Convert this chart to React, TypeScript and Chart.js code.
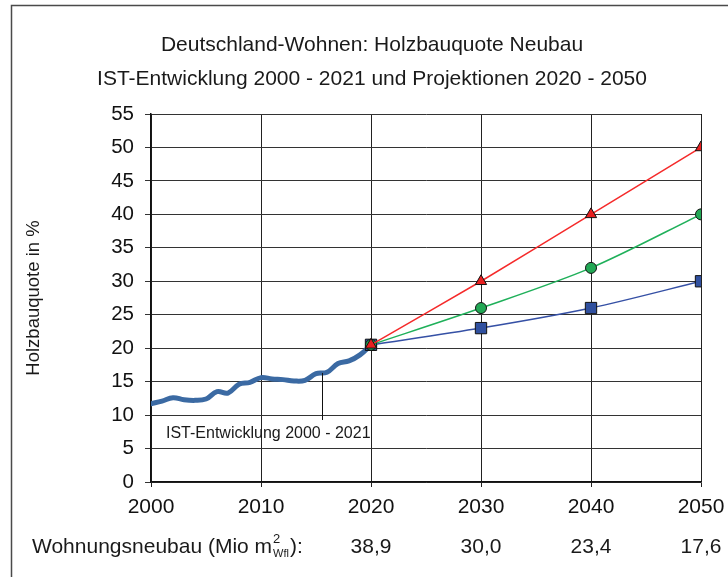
import React, { useEffect, useRef } from "react";
import { Chart, registerables } from "chart.js";

Chart.register(...registerables);

const titleLines = [
  "Deutschland-Wohnen: Holzbauquote Neubau",
  "IST-Entwicklung 2000 - 2021 und Projektionen 2020 - 2050",
];
const yAxisTitle = "Holzbauquote in %";
const annotationText = "IST-Entwicklung 2000 - 2021";

const xTickValues = [2000, 2010, 2020, 2030, 2040, 2050];
const yTickValues = [0, 5, 10, 15, 20, 25, 30, 35, 40, 45, 50, 55];

const istYears = [
  2000, 2001, 2002, 2003, 2004, 2005, 2006, 2007, 2008, 2009, 2010,
  2011, 2012, 2013, 2014, 2015, 2016, 2017, 2018, 2019, 2020,
];
const istValues = [
  11.7, 12.1, 12.6, 12.3, 12.2, 12.4, 13.5, 13.3, 14.6, 14.9, 15.6,
  15.4, 15.3, 15.1, 15.2, 16.2, 16.4, 17.7, 18.1, 19.0, 20.5,
];

const projYears = [2020, 2030, 2040, 2050];
const scenarioHigh = [20.5, 30, 40, 50];
const scenarioMid = [20.5, 26, 32, 40];
const scenarioLow = [20.5, 23, 26, 30];

const newBuildLabel = "Wohnungsneubau (Mio m";
const newBuildYears = [2020, 2030, 2040, 2050];
const newBuildArea = ["38,9", "30,0", "23,4", "17,6"];

const FONT = '"Liberation Sans", Arial, sans-serif';

const overlayPlugin = {
  id: "overlay",
  afterDraw(chart: any) {
    const { ctx } = chart;
    const x = chart.scales.x;
    const y = chart.scales.y;
    ctx.save();
    // outer frame
    ctx.strokeStyle = "#4a4a4a";
    ctx.lineWidth = 1.5;
    ctx.beginPath();
    ctx.moveTo(11.5, 620);
    ctx.lineTo(11.5, 5.5);
    ctx.lineTo(760, 5.5);
    ctx.stroke();

    ctx.fillStyle = "#1a1a1a";
    ctx.textBaseline = "alphabetic";
    ctx.textAlign = "center";
    ctx.font = `21px ${FONT}`;
    ctx.fillText(titleLines[0], 372, 51);
    ctx.fillText(titleLines[1], 372, 85);

    // y axis title
    ctx.save();
    ctx.font = `18.5px ${FONT}`;
    ctx.translate(39, (chart.chartArea.top + chart.chartArea.bottom) / 2);
    ctx.rotate(-Math.PI / 2);
    ctx.textAlign = "center";
    ctx.fillText(yAxisTitle, 0, 0);
    ctx.restore();

    // annotation
    const ax = Math.round(x.getPixelForValue(2015.5)) + 0.5;
    ctx.strokeStyle = "#111";
    ctx.lineWidth = 1;
    ctx.beginPath();
    ctx.moveTo(ax, y.getPixelForValue(16.3));
    ctx.lineTo(ax, 420);
    ctx.stroke();
    ctx.font = `16px ${FONT}`;
    ctx.textAlign = "left";
    ctx.fillText(annotationText, 166, 438);

    // bottom row
    ctx.font = `21px ${FONT}`;
    ctx.textAlign = "left";
    let bx = 32;
    const by = 553;
    ctx.fillText(newBuildLabel, bx, by);
    bx += ctx.measureText(newBuildLabel).width;
    ctx.font = `13px ${FONT}`;
    ctx.fillText("2", bx + 1, by - 10);
    ctx.font = `11px ${FONT}`;
    ctx.fillText("Wfl", bx + 1, by + 4);
    const w = ctx.measureText("Wfl").width;
    ctx.font = `21px ${FONT}`;
    ctx.fillText("):", bx + 2 + w, by);
    ctx.textAlign = "center";
    newBuildYears.forEach((yr, i) => {
      ctx.fillText(newBuildArea[i], x.getPixelForValue(yr), by);
    });
    ctx.restore();
  },
};

export default function App() {
  const ref = useRef<HTMLCanvasElement>(null);
  useEffect(() => {
    if (!ref.current) return;
    const chart = new Chart(ref.current, {
      type: "line",
      data: {
        datasets: [
          {
            label: "Hoch",
            data: projYears.map((yr, i) => ({ x: yr, y: scenarioHigh[i] })),
            borderColor: "#f52a2a",
            borderWidth: 1.5,
            backgroundColor: "#e82020",
            pointBackgroundColor: "#e82020",
            pointBorderColor: "#111",
            pointBorderWidth: 1,
            pointStyle: "triangle",
            pointRadius: 6.5,
            tension: 0.2,
            order: 0,
          },
          {
            label: "Mittel",
            data: projYears.map((yr, i) => ({ x: yr, y: scenarioMid[i] })),
            borderColor: "#1fb05a",
            borderWidth: 1.5,
            backgroundColor: "#22a855",
            pointBackgroundColor: "#22a855",
            pointBorderColor: "#111",
            pointBorderWidth: 1,
            pointStyle: "circle",
            pointRadius: 5.5,
            tension: 0.3,
            order: 1,
          },
          {
            label: "Niedrig",
            data: projYears.map((yr, i) => ({ x: yr, y: scenarioLow[i] })),
            borderColor: "#3550a5",
            borderWidth: 1.5,
            backgroundColor: "#30509f",
            pointBackgroundColor: "#30509f",
            pointBorderColor: "#111",
            pointBorderWidth: 1,
            pointStyle: "rect",
            pointRadius: 8,
            tension: 0.3,
            order: 2,
          },
          {
            label: "IST",
            data: istYears.map((yr, i) => ({ x: yr, y: istValues[i] })),
            borderColor: "#3b6aa3",
            borderWidth: 5,
            pointRadius: 0,
            tension: 0.4,
            borderCapStyle: "round",
            order: 3,
          },
        ],
      },
      options: {
        responsive: false,
        animation: false,
        devicePixelRatio: 1,
        layout: { padding: { top: 114, right: 27, left: 0, bottom: 0 } },
        plugins: {
          legend: { display: false },
          tooltip: { enabled: false },
          title: { display: false },
        },
        scales: {
          x: {
            type: "linear",
            min: 2000,
            max: 2050,
            afterBuildTicks: (s: any) => {
              s.ticks = xTickValues.map((v) => ({ value: v }));
            },
            afterFit: (s: any) => {
              s.height = 95;
              s.paddingLeft = 0;
              s.paddingRight = 0;
            },
            ticks: {
              callback: (v: any) => String(v),
              font: { family: FONT, size: 21 },
              color: "#111",
              padding: 8,
              maxRotation: 0,
            },
            grid: { color: "#222", lineWidth: 1, tickLength: 5 },
            border: { color: "#111", width: 1.5 },
          },
          y: {
            min: 0,
            max: 55,
            afterBuildTicks: (s: any) => {
              s.ticks = yTickValues.map((v) => ({ value: v }));
            },
            afterFit: (s: any) => {
              s.width = 151;
            },
            ticks: {
              callback: (v: any) => String(v),
              font: { family: FONT, size: 20.5 },
              color: "#111",
              padding: 11,
            },
            grid: { color: "#333", lineWidth: 1, tickLength: 6 },
            border: { color: "#111", width: 1.5 },
          },
        },
      },
      plugins: [overlayPlugin],
    } as any);
    return () => chart.destroy();
  }, []);
  return (
    <div style={{ position: "fixed", left: 0, top: 0, width: 728, height: 577, background: "#fff" }}>
      <canvas ref={ref} width={728} height={577} />
    </div>
  );
}
